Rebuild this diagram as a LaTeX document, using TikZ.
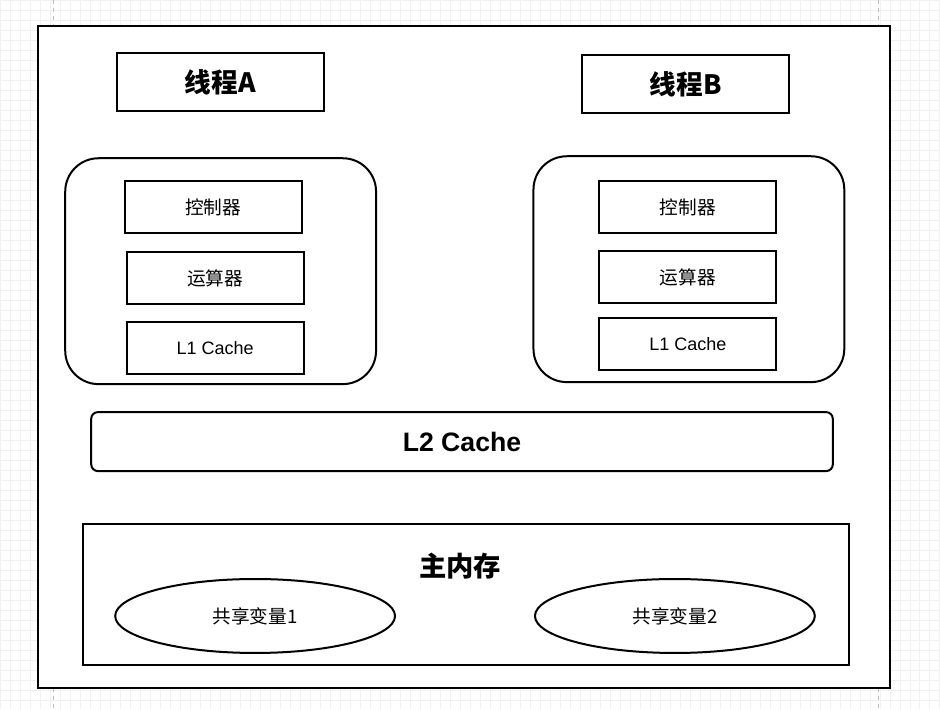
\documentclass[tikz,border=0pt]{standalone}
\usepackage{fontspec}
\setmainfont{Liberation Sans}
\newfontfamily\cjk{Noto Sans CJK SC}
\usetikzlibrary{shapes.geometric}

\begin{document}
\begin{tikzpicture}[x=0.75pt,y=-0.75pt,
  box/.style={draw,line width=1.5pt,minimum width=132.75pt,minimum height=39pt,font=\cjk\fontsize{14}{16}\selectfont},
  titlebox/.style={draw,line width=1.5pt,minimum width=155.25pt,minimum height=43.5pt,font=\cjk\bfseries\fontsize{20}{22}\selectfont},
  corebox/.style={draw,line width=1.5pt,rounded corners=25pt,minimum width=233.25pt,minimum height=169.5pt},
  varell/.style={draw,ellipse,line width=1.5pt,inner sep=0pt,minimum width=210pt,minimum height=55.5pt,font=\cjk\fontsize{14}{16}\selectfont}]
% background grid
\fill[white] (0,0) rectangle (940,709);
\foreach \i in {0,10,...,940} \draw[black!6,line width=0.4pt] (\i,0)--(\i,709);
\foreach \j in {0,10,...,700} \draw[black!6,line width=0.4pt] (0,\j)--(940,\j);
\draw[black!25,dashed,line width=0.5pt] (53,0)--(53,709);
\draw[black!25,dashed,line width=0.5pt] (879,0)--(879,709);
\useasboundingbox (0,0) rectangle (940,709);
% outer frame
\draw[line width=1.6pt,fill=white] (38,26) rectangle (890,688);
% threads
\node[titlebox] (threadA) at (220,82) {线程A};
\node[titlebox] (threadB) at (686,84) {线程B};
% cores
\node[corebox] (coreA) at (220.5,271) {};
\node[corebox] (coreB) at (689,269) {};
\node[box] (ctrlA) at (213,207) {控制器};
\node[box] (aluA) at (215,278) {运算器};
\node[box,font=\fontsize{13.5}{15}\selectfont] (cacheA) at (215,348) {L1 Cache};
\node[box] (ctrlB) at (688,207) {控制器};
\node[box] (aluB) at (688,277) {运算器};
\node[box,font=\fontsize{13.5}{15}\selectfont] (cacheB) at (688,344) {L1 Cache};
% shared cache
\node[draw,line width=1.5pt,rounded corners=5pt,minimum width=556.5pt,minimum height=44.25pt,font=\bfseries\fontsize{20}{22}\selectfont] (cacheL2) at (462,441.5) {L2 Cache};
% main memory
\node[draw,line width=1.5pt,minimum width=574.5pt,minimum height=105.75pt] (mem) at (466,594.5) {};
\node[font=\cjk\bfseries\fontsize{20.5}{22}\selectfont] (memlabel) at (460,566) {主内存};
\node[varell] (varA) at (255,616) {共享变量1};
\node[varell] (varB) at (675,616) {共享变量2};
\end{tikzpicture}
\end{document}
